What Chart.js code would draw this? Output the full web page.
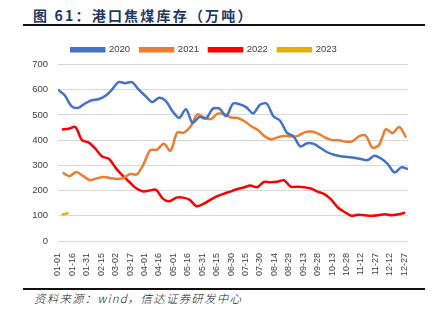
<!DOCTYPE html>
<html>
<head>
<meta charset="utf-8">
<script src="https://cdn.jsdelivr.net/npm/chart.js@4.4.1/dist/chart.umd.min.js"></script>
<style>
    body { margin: 0; width: 436px; height: 322px; overflow: hidden; background: #fff; position: relative; }
    .title { position: absolute; left: 33px; top: 6px; font-family: 'Noto Sans CJK SC', sans-serif; font-weight: 700; font-size: 14px; letter-spacing: 2.2px; color: #1f3864; line-height: 18px; white-space: nowrap; }
    .rule { position: absolute; left: 23px; width: 402px; height: 2px; background: #111; }
    .source { position: absolute; left: 34px; font-family: 'Noto Sans CJK SC', sans-serif; font-style: italic; font-weight: 300; font-size: 11.5px; letter-spacing: 1.2px; color: #222; line-height: 14px; white-space: nowrap; }
    .chart-box { position: absolute; left: 0; top: 31px; width: 443px; height: 249px; }
</style>
</head>
<body>
<div class="title">图 61：港口焦煤库存（万吨）</div>
<div class="rule" style="top:24px"></div>
<div class="chart-box"><canvas id="stockChart"></canvas></div>
<div class="rule" style="top:288px;height:1.5px"></div>
<div class="source" style="top:291px">资料来源：wind，信达证券研发中心</div>

<script>
// x axis labels, one every 15 days
const tickLabels = ['01-01', '01-16', '01-31', '02-15', '03-02', '03-17', '04-01', '04-16', '05-01',
    '05-16', '05-31', '06-15', '06-30', '07-15', '07-30', '08-14', '08-29', '09-13', '09-28',
    '10-13', '10-28', '11-12', '11-27', '12-12', '12-27'];

// weekly stock readings (10k tonnes), first reading date per year
const start2020 = '01-01';
const stock2020 = [600, 578, 535, 528, 545, 558, 562, 575, 600, 630, 626, 630, 600, 575, 551, 568,
    556, 515, 488, 523, 468, 492, 486, 525, 525, 495, 545, 542, 530, 506, 540, 545, 495, 477, 430,
    415, 375, 388, 385, 369, 352, 342, 336, 333, 330, 325, 321, 338, 327, 305, 272, 292, 285];

const start2021 = '01-06';
const stock2021 = [271, 257, 274, 258, 242, 248, 254, 250, 246, 250, 266, 264, 305, 360, 362, 386,
    358, 430, 430, 455, 502, 490, 484, 505, 503, 490, 488, 475, 455, 440, 415, 403, 412, 416, 414,
    418, 432, 434, 425, 410, 400, 400, 394, 395, 415, 418, 370, 382, 443, 428, 452, 410];

const start2022 = '01-05';
const stock2022 = [442, 445, 452, 400, 390, 365, 335, 326, 290, 260, 235, 210, 197, 200, 203, 168,
    158, 172, 172, 163, 138, 147, 162, 177, 187, 196, 205, 212, 220, 213, 234, 233, 235, 241, 216,
    215, 213, 208, 196, 186, 165, 133, 115, 100, 104, 102, 100, 102, 106, 102, 106, 112];

const start2023 = '01-05';
const stock2023 = [104, 111];

const seriesNames = ['2020', '2021', '2022', '2023'];
const colors = ['#4472c4', '#ed7d31', '#ff0000', '#e6b00a'];

function dayOfYear(md) {
    const [m, d] = md.split('-').map(Number);
    return Math.round((Date.UTC(2021, m - 1, d) - Date.UTC(2021, 0, 1)) / 86400000);
}

function weekly(start, values) {
    const first = dayOfYear(start);
    return values.map((v, i) => ({x: first + i * 7, y: v}));
}

const allSeries = [
    weekly(start2020, stock2020),
    weekly(start2021, stock2021),
    weekly(start2022, stock2022),
    weekly(start2023, stock2023)
];

const datasets = allSeries.map((points, i) => ({
    label: seriesNames[i],
    data: points,
    borderColor: colors[i],
    backgroundColor: colors[i],
    borderWidth: 2.5,
    pointRadius: 0,
    tension: 0.3,
    fill: false
}));

const tickFont = {size: 9.5, family: "'Liberation Sans', Arial, sans-serif"};

new Chart(document.getElementById('stockChart'), {
    type: 'line',
    data: {datasets: datasets},
    options: {
        responsive: true,
        maintainAspectRatio: false,
        animation: false,
        layout: {padding: {top: 4, right: 35, bottom: 0, left: 0}},
        scales: {
            x: {
                type: 'linear',
                min: 0,
                max: 364,
                grid: {display: false},
                border: {display: false},
                ticks: {
                    stepSize: 15,
                    includeBounds: false,
                    autoSkip: false,
                    maxRotation: 90,
                    minRotation: 90,
                    padding: 4,
                    color: '#404040',
                    font: {size: 9, family: "'Liberation Sans', Arial, sans-serif"},
                    callback: function (value) {
                        return value % 15 === 0 ? tickLabels[value / 15] : null;
                    }
                },
                afterFit: function (scale) { scale.height = 39; }
            },
            y: {
                min: 0,
                max: 700,
                grid: {color: '#d9d9d9', lineWidth: 1, drawTicks: false},
                border: {display: false},
                ticks: {
                    stepSize: 100,
                    padding: 10,
                    color: '#404040',
                    font: tickFont
                },
                afterFit: function (scale) { scale.width = 58; }
            }
        },
        plugins: {
            legend: {
                display: true,
                position: 'top',
                labels: {
                    boxWidth: 33,
                    boxHeight: 3,
                    padding: 10,
                    color: '#404040',
                    font: tickFont
                }
            },
            tooltip: {enabled: false}
        }
    }
});
</script>
</body>
</html>
